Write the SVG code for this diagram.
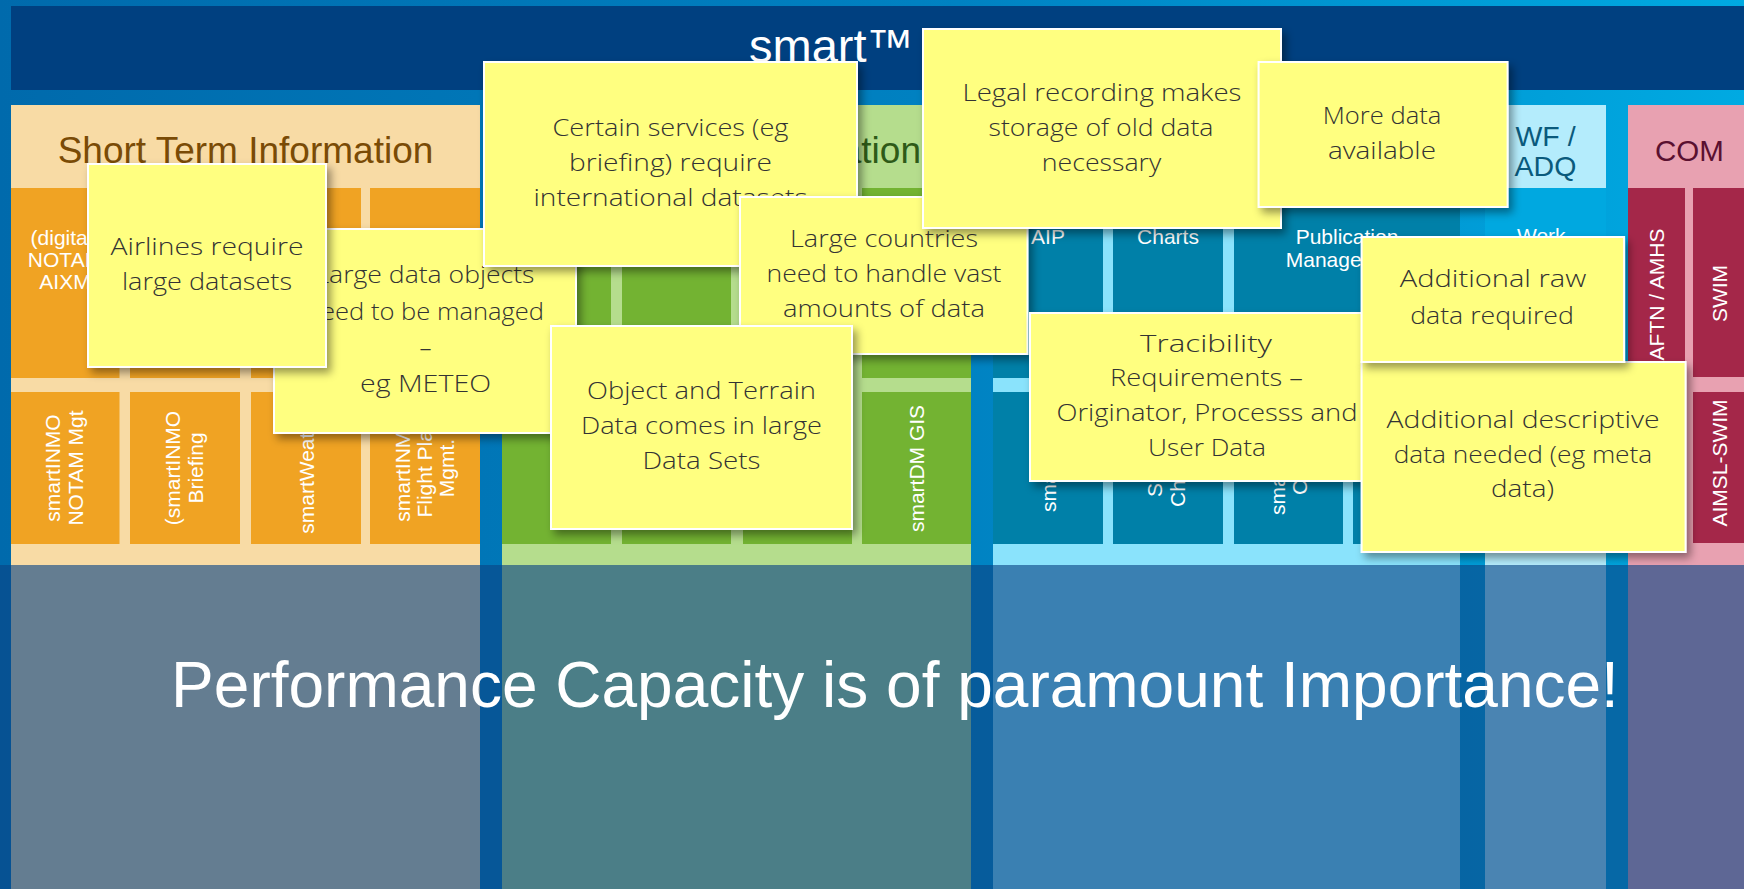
<svg xmlns="http://www.w3.org/2000/svg" width="1744" height="889" viewBox="0 0 1744 889">
<defs>
<linearGradient id="bg" x1="0" y1="0" x2="1744" y2="0" gradientUnits="userSpaceOnUse">
<stop offset="0" stop-color="#006aac"/><stop offset="0.55" stop-color="#0082c2"/><stop offset="1" stop-color="#00aae2"/>
</linearGradient>
<filter id="sh" x="-10%" y="-10%" width="125%" height="130%"><feDropShadow dx="4" dy="5" stdDeviation="4" flood-color="#000" flood-opacity="0.4"/></filter>
</defs>
<style>
.w{fill:#fff;font-family:"Liberation Sans",Arial,sans-serif;font-size:21px}
.m{text-anchor:middle}
.hd{font-family:"Liberation Sans",Arial,sans-serif}
.peach{fill:#f8dba5}.orange{fill:#f0a323}
.lgreen{fill:#b5dd8d}.green{fill:#73b332}
.lblue{fill:#8ae3fc}.blue{fill:#0080a8}
.wfl{fill:#b4ecfc}.wfb{fill:#00a8e0}
.pink{fill:#e8a1b1}.red{fill:#a42749}
.note rect{fill:#ffff80;stroke:#fff;stroke-width:2;filter:url(#sh)}
.note text{font-family:"Segoe Print","Open Sans",sans-serif;font-weight:300;font-size:24px;fill:#333;text-anchor:middle}
</style>
<rect width="1744" height="889" fill="url(#bg)"/>
<g id="title">
<rect x="11" y="6" width="1733" height="84" fill="#004080"/>
<text class="hd" x="749" y="62" font-size="47" fill="#fff">smart™</text>
</g>
<g id="short-term">
<rect class="peach" x="11" y="105" width="469" height="784"/>
<text class="hd m" x="245.5" y="163" font-size="37" fill="#7a4b06">Short Term Information</text>
<rect class="orange" x="11" y="188" width="108.5" height="190"/>
<rect class="orange" x="130" y="188" width="110" height="190"/>
<rect class="orange" x="251" y="188" width="110" height="190"/>
<rect class="orange" x="370" y="188" width="110" height="190"/>
<rect class="orange" x="11" y="392" width="108.5" height="152"/>
<rect class="orange" x="130" y="392" width="110" height="152"/>
<rect class="orange" x="251" y="392" width="110" height="152"/>
<rect class="orange" x="370" y="392" width="110" height="152"/>
<text class="w m" x="65" y="245">(digital)</text>
<text class="w m" x="65" y="267">NOTAM</text>
<text class="w m" x="65" y="289">AIXM</text>
<text class="w m" transform="translate(59.5,468) rotate(-90)">smartINMO</text>
<text class="w m" transform="translate(82.5,468) rotate(-90)">NOTAM Mgt</text>
<text class="w m" transform="translate(180,468) rotate(-90)">(smartINMO</text>
<text class="w m" transform="translate(203,468) rotate(-90)">Briefing</text>
<text class="w m" transform="translate(313.5,468) rotate(-90)">smartWeather</text>
<text class="w m" transform="translate(410,468) rotate(-90)">smartINMO</text>
<text class="w m" transform="translate(432,468) rotate(-90)">Flight Plan</text>
<text class="w m" transform="translate(454,468) rotate(-90)">Mgmt.</text>
</g>
<g id="long-term">
<rect class="lgreen" x="502" y="105" width="469" height="784"/>
<text class="hd" x="921" y="163" font-size="37" fill="#2e5a18" text-anchor="end">ation</text>
<rect class="green" x="502" y="188" width="109" height="190"/>
<rect class="green" x="622" y="188" width="109" height="190"/>
<rect class="green" x="743" y="188" width="109" height="190"/>
<rect class="green" x="862" y="188" width="109" height="190"/>
<rect class="green" x="502" y="392" width="109" height="152"/>
<rect class="green" x="622" y="392" width="109" height="152"/>
<rect class="green" x="743" y="392" width="109" height="152"/>
<rect class="green" x="862" y="392" width="109" height="152"/>
<text class="w m" transform="translate(924,468.5) rotate(-90)">smartDM GIS</text>
</g>
<g id="publication">
<rect class="lblue" x="993" y="105" width="467" height="784"/>
<rect class="blue" x="993" y="188" width="110" height="190"/>
<rect class="blue" x="1113" y="188" width="110" height="190"/>
<rect class="blue" x="1234" y="188" width="226" height="190"/>
<rect class="blue" x="993" y="392" width="110" height="152"/>
<rect class="blue" x="1113" y="392" width="110" height="152"/>
<rect class="blue" x="1234" y="392" width="109" height="152"/>
<rect class="blue" x="1353" y="392" width="107" height="152"/>
<text class="w m" x="1048" y="244">AIP</text>
<text class="w m" x="1168" y="244">Charts</text>
<text class="w m" x="1347" y="244">Publication</text>
<text class="w m" x="1347" y="267">Management</text>
<text class="w" transform="translate(1055.5,512) rotate(-90)">sma</text>
<text class="w" transform="translate(1162,497) rotate(-90)">S</text>
<text class="w" transform="translate(1185,507) rotate(-90)">Ch</text>
<text class="w" transform="translate(1285,515) rotate(-90)">sma</text>
<text class="w" transform="translate(1306.5,495) rotate(-90)">C</text>
</g>
<g id="wf-adq">
<rect class="wfl" x="1485" y="105" width="121" height="784"/>
<rect class="wfb" x="1485" y="188" width="121" height="356"/>
<text class="hd m" x="1545.5" y="146" font-size="28.5" fill="#0a5a7c">WF /</text>
<text class="hd m" x="1545.5" y="176" font-size="28.5" fill="#0a5a7c">ADQ</text>
<text class="w" x="1517" y="243">Work</text>
</g>
<g id="com">
<rect class="pink" x="1628" y="105" width="116" height="784"/>
<text class="hd" x="1655" y="161" font-size="29.5" fill="#5a1030">COM</text>
<rect class="red" x="1628" y="188" width="57" height="189"/>
<rect class="red" x="1693" y="188" width="51" height="189"/>
<rect class="red" x="1628" y="392" width="57" height="151"/>
<rect class="red" x="1693" y="392" width="51" height="151"/>
<text class="w m" transform="translate(1663.5,294.5) rotate(-90)">AFTN / AMHS</text>
<text class="w m" transform="translate(1727,293.5) rotate(-90)">SWIM</text>
<text class="w m" transform="translate(1727,463) rotate(-90)">AIMSL-SWIM</text>
</g>
<g id="performance-banner">
<rect x="0" y="565" width="1744" height="324" fill="#094484" opacity="0.62"/>
<text class="hd m" x="895" y="707" font-size="64" fill="#fff">Performance Capacity is of paramount Importance!</text>
</g>
<g id="note-large-data" class="note">
<rect x="274" y="229" width="302" height="204"/>
<text x="425" y="283" textLength="219" lengthAdjust="spacingAndGlyphs">Large data objects</text>
<text x="425" y="320" textLength="238" lengthAdjust="spacingAndGlyphs">need to be managed</text>
<text x="425.5" y="356">–</text>
<text x="425.5" y="392" textLength="131" lengthAdjust="spacingAndGlyphs">eg METEO</text>
</g>
<g id="note-airlines" class="note">
<rect x="88" y="164" width="238" height="203"/>
<text x="207" y="255" textLength="193" lengthAdjust="spacingAndGlyphs">Airlines require</text>
<text x="207" y="290" textLength="170" lengthAdjust="spacingAndGlyphs">large datasets</text>
</g>
<g id="note-certain-services" class="note">
<rect x="484" y="62" width="373" height="204"/>
<text x="670.5" y="136" textLength="236" lengthAdjust="spacingAndGlyphs">Certain services (eg</text>
<text x="670.5" y="171" textLength="203" lengthAdjust="spacingAndGlyphs">briefing) require</text>
<text x="670.5" y="206" textLength="274" lengthAdjust="spacingAndGlyphs">international datasets</text>
</g>
<g id="note-large-countries" class="note">
<rect x="740" y="197" width="287.5" height="157"/>
<text x="884" y="247" textLength="188" lengthAdjust="spacingAndGlyphs">Large countries</text>
<text x="884" y="282" textLength="235" lengthAdjust="spacingAndGlyphs">need to handle vast</text>
<text x="884" y="317" textLength="202" lengthAdjust="spacingAndGlyphs">amounts of data</text>
</g>
<g id="note-object-terrain" class="note">
<rect x="551" y="326" width="301" height="203"/>
<text x="701.5" y="399" textLength="229" lengthAdjust="spacingAndGlyphs">Object and Terrain</text>
<text x="701.5" y="434" textLength="241" lengthAdjust="spacingAndGlyphs">Data comes in large</text>
<text x="701.5" y="469" textLength="118" lengthAdjust="spacingAndGlyphs">Data Sets</text>
</g>
<g id="note-legal-recording" class="note">
<rect x="923" y="29" width="358" height="199"/>
<text x="1102" y="101" textLength="279" lengthAdjust="spacingAndGlyphs">Legal recording makes</text>
<text x="1101" y="136" textLength="225" lengthAdjust="spacingAndGlyphs">storage of old data</text>
<text x="1101.5" y="171" textLength="119.5" lengthAdjust="spacingAndGlyphs">necessary</text>
</g>
<g id="note-more-data" class="note">
<rect x="1258.6" y="62" width="249" height="145"/>
<text x="1382" y="124" textLength="118.6" lengthAdjust="spacingAndGlyphs">More data</text>
<text x="1382" y="159" textLength="108" lengthAdjust="spacingAndGlyphs">available</text>
</g>
<g id="note-tracibility" class="note">
<rect x="1030" y="313" width="354" height="168"/>
<text x="1206" y="352" textLength="132" lengthAdjust="spacingAndGlyphs">Tracibility</text>
<text x="1206.5" y="386" textLength="193" lengthAdjust="spacingAndGlyphs">Requirements –</text>
<text x="1207" y="421" textLength="301" lengthAdjust="spacingAndGlyphs">Originator, Processs and</text>
<text x="1207" y="456" textLength="118" lengthAdjust="spacingAndGlyphs">User Data</text>
</g>
<g id="note-descriptive-data" class="note">
<rect x="1361.6" y="362" width="324" height="190"/>
<text x="1523" y="428" textLength="273" lengthAdjust="spacingAndGlyphs">Additional descriptive</text>
<text x="1523" y="463" textLength="258.6" lengthAdjust="spacingAndGlyphs">data needed (eg meta</text>
<text x="1522.5" y="497" textLength="63" lengthAdjust="spacingAndGlyphs">data)</text>
</g>
<g id="note-raw-data" class="note">
<rect x="1361.6" y="237" width="262.5" height="125"/>
<text x="1493" y="287" textLength="186.5" lengthAdjust="spacingAndGlyphs">Additional raw</text>
<text x="1492" y="324" textLength="163.7" lengthAdjust="spacingAndGlyphs">data required</text>
</g>
</svg>
